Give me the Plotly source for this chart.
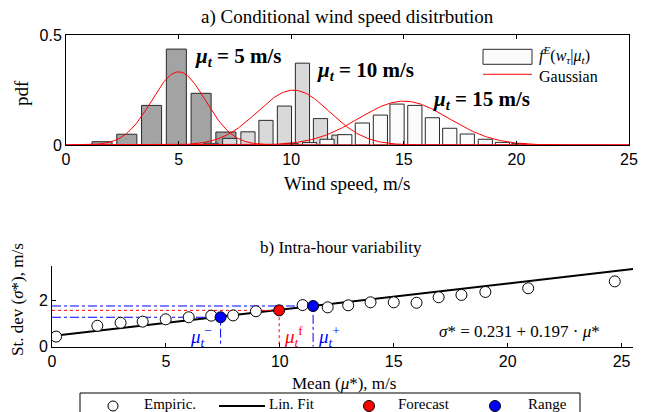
import numpy as np
import plotly.graph_objects as go

W, H = 657, 412

# ---------------- data: panel a ----------------
dark_x = [1.6, 2.7, 3.8, 4.9, 6.0, 7.1]
dark_y = [0.015, 0.049, 0.18, 0.436, 0.235, 0.059]
light_x = [6.44, 7.27, 8.08, 8.88, 9.70, 10.5, 11.3, 12.12]
light_y = [0.008, 0.03, 0.06, 0.112, 0.177, 0.372, 0.12, 0.045]
white_x = [10.0, 10.82, 11.59, 12.38, 13.16, 13.96, 14.7, 15.49, 16.27, 17.04, 17.82, 18.62, 19.38, 20.1]
white_y = [0.006, 0.011, 0.026, 0.047, 0.1, 0.136, 0.186, 0.18, 0.124, 0.076, 0.05, 0.026, 0.012, 0.006]
gauss_mu = [5.0, 10.1, 15.0]
gauss_sigma = [1.2, 1.6, 2.0]
mu_labels = ["5", "10", "15"]
label_x = [5.64, 11.06, 16.2]
label_y = [0.40, 0.338, 0.205]

# ---------------- data: panel b ----------------
emp_x = [0.18, 1.99, 3.01, 3.98, 4.99, 6.0, 6.99, 7.95, 8.95, 11.0, 12.1, 13.0, 13.98, 15.0, 16.0, 16.97, 17.97, 19.02, 20.9, 24.7]
emp_y = [0.44, 0.91, 1.04, 1.09, 1.19, 1.28, 1.35, 1.36, 1.54, 1.81, 1.71, 1.80, 1.93, 1.93, 1.91, 2.15, 2.25, 2.38, 2.54, 2.84]
fit_x = [0.0, 25.5]
fit_y = [0.46, 3.38]
fc_x, fc_y = 9.97, 1.58
rng_x = [7.4, 11.46]
rng_y = [1.28, 1.77]

SERIF = "Liberation Serif"
SANS = "Liberation Sans"
BLUE = "#0000ff"
RED = "#ff0000"

fig = go.Figure()

# bars
edge = "#2a2a2a"
fig.add_trace(go.Bar(x=dark_x, y=dark_y, width=0.89, marker=dict(color="#a3a3a3", line=dict(color=edge, width=1)),
                     xaxis="x", yaxis="y", showlegend=False))
fig.add_trace(go.Bar(x=light_x, y=light_y, width=0.63, marker=dict(color="#d9d9d9", line=dict(color=edge, width=1)),
                     xaxis="x", yaxis="y", showlegend=False))
fig.add_trace(go.Bar(x=white_x, y=white_y, width=0.63, marker=dict(color="#fbfbfb", line=dict(color=edge, width=1)),
                     xaxis="x", yaxis="y", showlegend=False))

xg = np.linspace(0, 25, 400)
for m, s in zip(gauss_mu, gauss_sigma):
    yg = np.exp(-0.5 * ((xg - m) / s) ** 2) / (np.sqrt(2 * np.pi) * s)
    fig.add_trace(go.Scatter(x=xg, y=yg, mode="lines", line=dict(color=RED, width=1),
                             xaxis="x", yaxis="y", showlegend=False))

# panel b traces
fig.add_trace(go.Scatter(x=fit_x, y=fit_y, mode="lines", line=dict(color="black", width=2),
                         name="Lin. Fit", xaxis="x2", yaxis="y2", showlegend=False))
for xv, yv in zip(rng_x, rng_y):
    fig.add_trace(go.Scatter(x=[0, xv, xv], y=[yv, yv, 0], mode="lines",
                             line=dict(color=BLUE, width=1, dash="dashdot"),
                             xaxis="x2", yaxis="y2", showlegend=False))
fig.add_trace(go.Scatter(x=[0, fc_x, fc_x], y=[fc_y, fc_y, 0], mode="lines",
                         line=dict(color=RED, width=1, dash="dot"),
                         xaxis="x2", yaxis="y2", showlegend=False))
fig.add_trace(go.Scatter(x=emp_x, y=emp_y, mode="markers", name="Empiric.",
                         marker=dict(symbol="circle", size=11, color="white", line=dict(color="black", width=1)),
                         xaxis="x2", yaxis="y2", showlegend=False))
fig.add_trace(go.Scatter(x=[fc_x], y=[fc_y], mode="markers", name="Forecast",
                         marker=dict(symbol="circle", size=11, color=RED, line=dict(color="black", width=1)),
                         xaxis="x2", yaxis="y2", showlegend=False))
fig.add_trace(go.Scatter(x=rng_x, y=rng_y, mode="markers", name="Range",
                         marker=dict(symbol="circle", size=11, color=BLUE, line=dict(color="black", width=1)),
                         xaxis="x2", yaxis="y2", showlegend=False))

axis_common = dict(showline=True, linecolor="black", linewidth=1, ticks="inside", ticklen=4,
                   tickcolor="black", showgrid=False, zeroline=False, automargin=False,
                   tickfont=dict(family=SANS, size=16, color="black"))

ax_x0, ax_x1 = 66 / W, 629 / W
ay_y0, ay_y1 = 1 - 145 / H, 1 - 35 / H
bx_x0, bx_x1 = 52 / W, 633 / W
by_y0, by_y1 = 1 - 346.7 / H, 1 - 266.2 / H

fig.update_layout(
    width=W, height=H, margin=dict(l=0, r=0, t=0, b=0, autoexpand=False),
    paper_bgcolor="white", plot_bgcolor="white", barmode="overlay", bargap=0,
    showlegend=False, hovermode=False,
    xaxis=dict(domain=[ax_x0, ax_x1], range=[0, 25], tickvals=[0, 5, 10, 15, 20, 25], mirror="ticks",
               anchor="y", **axis_common),
    yaxis=dict(domain=[ay_y0, ay_y1], range=[0, 0.5], tickvals=[0, 0.5], ticktext=["0", "0.5"], mirror="ticks",
               anchor="x", **axis_common),
    xaxis2=dict(domain=[bx_x0, bx_x1], range=[0, 25.5], tickvals=[0, 5, 10, 15, 20, 25], anchor="y2",
                **axis_common),
    yaxis2=dict(domain=[by_y0, by_y1], range=[0, 3.5], tickvals=[0, 2], anchor="x2", **axis_common),
)

ann = []
def A(text, x, y, xref="paper", yref="paper", size=15, xanchor="center", yanchor="middle", color="black",
      textangle=0, family=SERIF):
    ann.append(dict(text=text, x=x, y=y, xref=xref, yref=yref, showarrow=False, xanchor=xanchor,
                    yanchor=yanchor, textangle=textangle, font=dict(family=family, size=size, color=color)))

def px(x):
    return x / W

def py(y):
    return 1 - y / H

A("a) Conditional wind speed disitrbution", px(347), py(17), size=19)
A("pdf", px(21), py(93), size=19, textangle=-90)
A("Wind speed, m/s", px(347), py(183), size=19)
for lab, lx, ly in zip(mu_labels, label_x, label_y):
    A("<b><i>μ</i><sub><i>t</i></sub> = %s m/s</b>" % lab, lx, ly, xref="x", yref="y", size=21, xanchor="left")

A("b) Intra-hour variability", px(341), py(248), size=17)
A("St. dev (<i>σ</i>*), m/s", px(17), py(300), size=17, textangle=-90)
A("Mean (<i>μ</i>*), m/s", px(344), py(383), size=17)
A("<i>σ</i>* = 0.231 + 0.197 · <i>μ</i>*", 20.5, 0.65, xref="x2", yref="y2", size=17)
A("<i>μ</i><sub><i>t</i></sub><sup>−</sup>", 7.1, 0.45, xref="x2", yref="y2", size=19, xanchor="right", color=BLUE)
A("<i>μ</i><sub><i>t</i></sub><sup>f</sup>", 10.1, 0.45, xref="x2", yref="y2", size=19, xanchor="left", color=RED)
A("<i>μ</i><sub><i>t</i></sub><sup>+</sup>", 11.6, 0.45, xref="x2", yref="y2", size=19, xanchor="left", color=BLUE)

# top legend
A("<i>f</i><sup><i>E</i></sup>(<i>w</i><sub><i>τ</i></sub>|<i>μ</i><sub><i>t</i></sub>)", px(537), py(55),
  size=16, xanchor="left")
A("Gaussian", px(537), py(76), size=16, xanchor="left")

# bottom legend
leg_y = 404
A("Empiric.", px(142), py(leg_y), size=15, xanchor="left")
A("Lin. Fit", px(267), py(leg_y), size=15, xanchor="left")
A("Forecast", px(396), py(leg_y), size=15, xanchor="left")
A("Range", px(526), py(leg_y), size=15, xanchor="left")

def circle(cx, cy, r, fill):
    return dict(type="circle", xref="paper", yref="paper", x0=px(cx - r), x1=px(cx + r),
                y0=py(cy + r), y1=py(cy - r), fillcolor=fill, line=dict(color="black", width=1))

shapes = [
    dict(type="rect", xref="paper", yref="paper", x0=px(483), x1=px(532), y0=py(64.3), y1=py(49.3),
         fillcolor="#fbfbfb", line=dict(color=edge, width=1)),
    dict(type="line", xref="paper", yref="paper", x0=px(483), x1=px(532), y0=py(74.3), y1=py(74.3),
         line=dict(color=RED, width=1)),
    dict(type="rect", xref="paper", yref="paper", x0=px(80), x1=px(580), y0=py(420), y1=py(393),
         fillcolor="white", line=dict(color="black", width=1), layer="below"),
    circle(113, 406, 5, "white"),
    dict(type="line", xref="paper", yref="paper", x0=px(219), x1=px(265), y0=py(406), y1=py(406),
         line=dict(color="black", width=2)),
    circle(369, 406, 5.5, RED),
    circle(495, 406, 5.5, BLUE),
]
fig.update_layout(annotations=ann, shapes=shapes)

fig.write_html("out.html", config={"displayModeBar": False, "staticPlot": True},
               post_script="document.body.style.margin='0px';document.body.style.overflow='hidden';")
